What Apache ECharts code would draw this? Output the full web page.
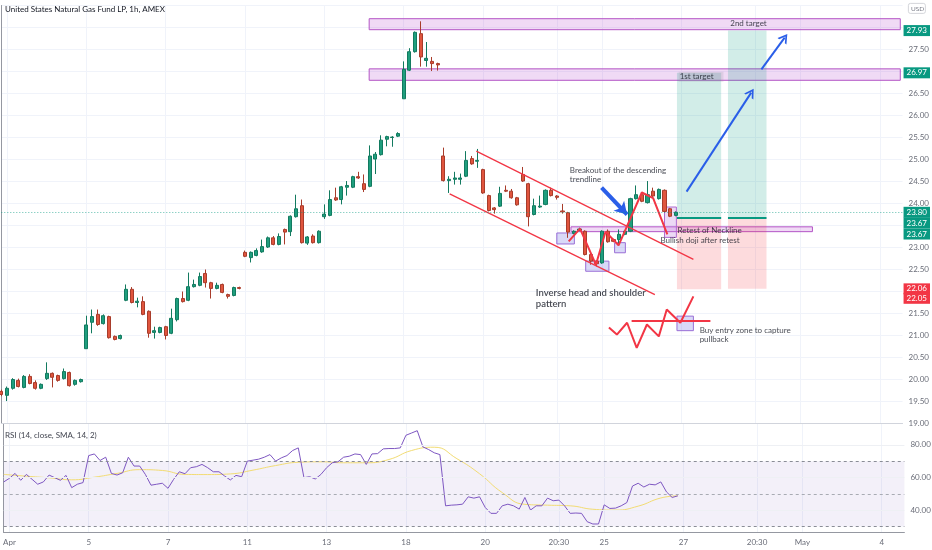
<!DOCTYPE html>
<html>
<head>
<meta charset="utf-8">
<script src="https://cdn.jsdelivr.net/npm/echarts@6/dist/echarts.min.js"></script>
<style>
html, body { margin: 0; padding: 0; background: #fff; }
#chart { width: 932px; height: 550px; }
</style>
</head>
<body>
<div id="chart"></div>
<script>
/* USO 1h with inverse head & shoulders markup */

var barCount = 160; // 120 real bars + empty space on the right
var dateTicks = [[1, 'Apr'], [15, '5'], [29, '7'], [43, '11'], [57, '13'], [71, '18'], [85, '20'],
    [98, '20:30'], [106, '25'], [120, '27'], [133, '20:30'], [141, 'May'], [155, '4']];

// [open, close, low, high]
var candles = [
    [19.73, 19.66, 19.62, 19.77], [19.64, 19.80, 19.51, 19.84], [19.80, 20.00, 19.77, 20.03], [19.98, 19.84, 19.82, 20.02],
    [19.82, 20.07, 19.80, 20.10], [20.07, 19.91, 19.89, 20.12], [19.93, 19.80, 19.77, 19.98], [19.80, 19.89, 19.78, 19.91],
    [20.02, 20.14, 19.99, 20.39], [20.14, 20.05, 19.82, 20.16], [20.09, 19.98, 19.95, 20.11], [20.02, 20.18, 20.00, 20.25],
    [20.16, 19.86, 19.84, 20.18], [19.89, 19.98, 19.86, 20.00], [19.95, 20.00, 19.93, 20.02], [20.70, 21.24, 20.70, 21.45],
    [21.30, 21.43, 21.05, 21.59], [21.48, 21.25, 21.22, 21.59], [21.27, 21.45, 21.25, 21.48], [21.43, 20.95, 20.93, 21.45],
    [20.98, 20.91, 20.89, 21.00], [20.93, 21.00, 20.91, 21.02], [21.80, 22.05, 21.78, 22.16], [22.05, 21.75, 21.73, 22.10],
    [21.75, 21.78, 21.64, 21.86], [21.77, 21.48, 21.46, 21.89], [21.55, 21.05, 20.95, 21.57], [21.07, 21.11, 20.93, 21.20],
    [21.07, 21.18, 21.05, 21.20], [21.20, 21.00, 20.91, 21.22], [21.05, 21.39, 21.03, 21.61], [21.36, 21.84, 21.32, 21.86],
    [21.84, 21.77, 21.75, 22.00], [21.80, 22.11, 21.78, 22.43], [22.11, 22.16, 22.09, 22.27], [22.14, 22.34, 22.12, 22.43],
    [22.41, 22.20, 22.09, 22.50], [22.20, 22.07, 21.84, 22.22], [22.07, 22.14, 22.05, 22.20], [22.16, 21.98, 21.96, 22.18],
    [21.93, 21.89, 21.84, 21.95], [21.91, 22.09, 21.89, 22.11], [22.09, 22.07, 22.05, 22.11], [22.89, 22.80, 22.78, 22.93],
    [22.77, 22.89, 22.66, 22.91], [22.82, 22.93, 22.80, 22.98], [22.90, 23.02, 22.88, 23.18], [23.01, 23.22, 22.99, 23.25],
    [23.22, 23.07, 23.05, 23.26], [23.07, 23.25, 23.05, 23.32], [23.41, 23.35, 23.07, 23.43], [23.36, 23.71, 23.26, 23.73],
    [23.70, 23.88, 23.68, 24.20], [23.95, 23.11, 23.09, 24.09], [23.10, 23.24, 23.06, 23.26], [23.26, 23.11, 23.09, 23.30],
    [23.11, 23.37, 23.09, 23.39], [23.70, 23.76, 23.65, 23.98], [23.73, 24.09, 23.71, 24.30], [24.13, 24.08, 24.06, 24.36],
    [24.09, 24.38, 23.98, 24.40], [24.37, 24.41, 24.18, 24.51], [24.37, 24.61, 24.35, 24.63], [24.61, 24.58, 24.56, 24.72],
    [24.45, 24.32, 24.26, 24.66], [24.39, 25.08, 24.37, 25.32], [25.01, 25.12, 24.67, 25.17], [25.11, 25.44, 25.09, 25.55],
    [25.46, 25.52, 25.30, 25.54], [25.50, 25.51, 25.29, 25.53], [25.53, 25.59, 25.51, 25.62], [26.38, 27.05, 26.38, 27.23],
    [27.03, 27.45, 27.01, 27.53], [27.45, 27.89, 27.43, 27.91], [27.86, 27.33, 27.11, 28.14], [27.25, 27.30, 27.11, 27.67],
    [27.23, 27.18, 27.01, 27.33], [27.18, 27.15, 27.02, 27.20], [25.08, 24.52, 24.50, 25.27], [24.52, 24.55, 24.24, 24.62],
    [24.55, 24.58, 24.43, 24.72], [24.55, 24.58, 24.43, 24.68], [24.62, 24.98, 24.60, 25.19], [25.02, 24.90, 24.88, 25.08],
    [24.96, 24.98, 24.81, 25.24], [24.77, 24.24, 24.22, 24.79], [24.18, 23.84, 23.82, 24.20], [23.90, 23.86, 23.77, 23.92],
    [23.94, 24.23, 23.92, 24.38], [24.30, 24.28, 24.26, 24.41], [24.28, 24.13, 24.11, 24.33], [24.13, 23.97, 23.95, 24.15],
    [24.66, 24.51, 24.49, 24.83], [24.45, 23.70, 23.48, 24.47], [23.75, 23.95, 23.73, 24.11], [23.92, 23.94, 23.90, 24.18],
    [23.98, 24.30, 23.96, 24.32], [24.30, 24.18, 24.16, 24.36], [24.17, 24.14, 24.09, 24.19], [23.83, 23.81, 23.77, 23.99],
    [23.79, 23.35, 23.22, 23.81], [23.32, 23.37, 23.30, 23.39], [23.39, 23.42, 23.37, 23.45], [23.37, 22.84, 22.82, 23.39],
    [22.84, 22.69, 22.61, 22.86], [22.69, 22.63, 22.57, 22.71], [22.65, 23.37, 22.63, 23.39], [23.37, 23.13, 23.11, 23.41],
    [23.18, 23.14, 23.12, 23.20], [23.18, 23.30, 23.05, 23.41], [23.30, 23.37, 23.28, 23.39], [23.37, 24.11, 23.35, 24.13],
    [24.11, 24.20, 24.09, 24.41], [24.20, 24.05, 24.03, 24.22], [24.02, 24.20, 24.00, 24.51], [24.28, 24.17, 24.15, 24.36],
    [24.11, 24.32, 24.09, 24.34], [24.30, 23.82, 23.80, 24.32], [23.88, 23.71, 23.69, 23.90], [23.73, 23.80, 23.71, 23.82]
];

var rsi = [57.3, 59.5, 62.5, 58.3, 61.9, 58.9, 55.9, 57.3, 61.5, 59.9,
    58.3, 61.3, 53.8, 55.9, 56.9, 73.4, 74.4, 70.4, 72.4, 62.5,
    61.5, 62.9, 72.4, 67.0, 67.0, 61.9, 55.3, 55.9, 56.5, 53.4,
    58.9, 63.5, 62.3, 66.0, 66.6, 68.0, 66.0, 63.5, 63.5, 60.9,
    58.5, 61.3, 60.5, 70.0, 70.6, 71.2, 72.4, 74.0, 70.0, 72.0,
    73.4, 76.5, 78.1, 59.9, 60.5, 59.1, 61.9, 66.0, 69.0, 69.6,
    72.4, 73.0, 74.4, 74.0, 68.0, 74.4, 74.6, 77.5, 77.7, 77.7,
    78.1, 85.8, 87.2, 88.6, 78.7, 77.1, 75.1, 74.0, 42.7, 43.1,
    43.3, 43.7, 48.2, 47.4, 48.2, 41.7, 38.1, 38.1, 42.7, 43.7,
    42.7, 40.7, 47.8, 40.1, 42.7, 42.7, 47.4, 45.8, 46.2, 42.7,
    38.1, 38.3, 38.1, 33.0, 31.6, 31.6, 43.3, 41.1, 41.3, 42.7,
    44.7, 54.8, 56.5, 54.2, 55.9, 55.5, 57.3, 51.2, 47.8, 48.8];

// RSI smoothing line, read every few bars  [bar, value]
var rsiSma = [[0, 61.9], [4, 60.8], [8, 59.8], [12, 58.6], [16, 60.2], [20, 62.5], [24, 64.8], [28, 64.3],
    [32, 61.9], [36, 61.8], [40, 62.2], [44, 64.5], [48, 67.3], [52, 69.3], [56, 69.6], [60, 69.0],
    [64, 69.0], [68, 71.0], [72, 76.5], [76, 78.5], [80, 71.5], [84, 62.3], [88, 50.8], [92, 43.6],
    [96, 43.1], [100, 42.7], [104, 40.6], [108, 40.1], [112, 42.5], [116, 47.5], [119, 48.8]];

// drawings, in [bar, price]
var targetZones = [[64.9, 158.6, 27.95, 28.20], [64.9, 158.6, 26.80, 27.06]];
var neckZone = [100.5, 143.1, 23.36, 23.47];
var patternBoxes = [[98.0, 101.1, 23.08, 23.33], [103.1, 107.2, 22.46, 22.69],
    [108.2, 110.1, 22.88, 23.11], [119.2, 122.1, 21.11, 21.44]];
var retestBox = [117.0, 119.1, 23.23, 23.92];
var positions = [[119.2, 127.0, 23.67, 22.05, 26.97], [128.2, 135.0, 23.67, 22.06, 27.93]]; // x0,x1,entry,stop,target
var channelUpper = [[83.8, 25.19], [122.1, 22.73]];
var channelLower = [[79.1, 24.22], [115.3, 21.93]];
var hsPath = [[100.1, 23.14], [102.1, 23.43], [104.9, 22.61], [106.6, 23.36], [108.9, 23.05],
    [113.0, 24.25], [115.0, 24.12], [117.5, 23.30]];
var iconZig = [[107.2, 21.18], [108.6, 21.02], [110.4, 21.29], [112.1, 20.72], [113.9, 21.25],
    [116.0, 20.98], [117.4, 21.59], [119.8, 21.29], [122.1, 21.89]];
var iconNeck = [[111.2, 21.33], [125.1, 21.33]];
var blueArrows = [[[120.9, 24.27], [132.3, 26.52]], [[134.1, 27.05], [138.2, 27.77]]];
var breakoutArrow = [[105.9, 24.36], [110.4, 23.75]];
var notes = [
    [100.3, 24.64, 'Breakout of the descending\ntrendline'],
    [119.3, 23.39, 'Retest of Neckline'],
    [116.3, 23.16, 'Bullish doji after retest'],
    [94.3, 21.84, 'Inverse head and shoulder\npattern'],
    [123.2, 21.01, 'Buy entry zone to capture\npullback'],
    [119.5, 26.88, '1st target'],
    [128.6, 28.09, '2nd target']
];
var priceTagsUp = [27.93, 26.97, 23.80, 23.67, 23.67];
var priceTagsDown = [22.06, 22.05];

var FONT = 'Lato, "Noto Sans", sans-serif';
var TEAL = '#089981', RED = '#f23645';

var categories = [];
for (var i = 0; i < barCount; i++) categories.push('b' + i);
var tickMap = {};
dateTicks.forEach(function (t) { tickMap[t[0]] = t[1]; });
function isTick(index) { return tickMap[index] !== undefined; }

function box(b, fill, border) {
    return [{ coord: [b[0], b[2]], itemStyle: { color: fill, borderColor: border, borderWidth: 1 } },
            { coord: [b[1], b[3]] }];
}
function path(name, pts, color, width) {
    return {
        name: name, type: 'line', xAxisIndex: 1, yAxisIndex: 0, data: pts, symbol: 'none',
        silent: true, z: 4, lineStyle: { color: color, width: width }
    };
}

var areaData = [];
targetZones.forEach(function (b) { areaData.push(box(b, 'rgba(186,85,211,0.22)', '#b455c6')); });
areaData.push(box(neckZone, 'rgba(186,85,211,0.22)', '#b455c6'));
patternBoxes.forEach(function (b) { areaData.push(box(b, 'rgba(120,120,225,0.28)', '#9a6fd6')); });
areaData.push(box(retestBox, 'rgba(186,120,220,0.28)', '#b06ad0'));
positions.forEach(function (p) {
    areaData.push(box([p[0], p[1], p[2], p[4]], 'rgba(8,153,129,0.18)', 'rgba(0,0,0,0)'));
    areaData.push(box([p[0], p[1], p[3], p[2]], 'rgba(242,54,69,0.18)', 'rgba(0,0,0,0)'));
});

var chevron = 'path://M5,0 L10,9 L8.2,9 L5,3.2 L1.8,9 L0,9 Z';
var arrowLines = blueArrows.map(function (a) {
    return [{ coord: a[0], symbol: 'none' }, { coord: a[1], symbol: chevron, symbolSize: [11, 9] }];
});
arrowLines.push([{ coord: breakoutArrow[0], symbol: 'none', lineStyle: { width: 4 } },
                 { coord: breakoutArrow[1], symbol: 'arrow', symbolSize: [11, 12] }]);
positions.forEach(function (p) {
    arrowLines.push([{ coord: [p[0], p[2]], symbol: 'none', lineStyle: { color: TEAL, width: 2 } },
                     { coord: [p[1], p[2]], symbol: 'none' }]);
});

var tagLines = [];
function tag(v, bg, dy, line) {
    tagLines.push({
        yAxis: v,
        lineStyle: line || { color: 'rgba(0,0,0,0)', width: 0 },
        label: {
            show: true, position: 'end', distance: 1, offset: [0, dy], formatter: v.toFixed(2),
            color: '#fff', backgroundColor: bg, padding: [2, 3, 1, 3], fontSize: 8, fontFamily: FONT
        }
    });
}
tag(priceTagsUp[0], TEAL, 0);
tag(priceTagsUp[1], TEAL, 0);
tag(priceTagsUp[2], TEAL, 0, { color: 'rgba(8,153,129,0.65)', type: [1, 2], width: 1 });
tag(priceTagsUp[3], TEAL, 5);
tag(priceTagsUp[4], TEAL, 16);
tag(priceTagsDown[0], RED, 0);
tag(priceTagsDown[1], RED, 9);

var rsiLines = [
    { yAxis: 80, lineStyle: { color: '#eef0f4', type: 'solid' }, label: { show: true, formatter: '80.00' } },
    { yAxis: 60, lineStyle: { color: '#eef0f4', type: 'solid' }, label: { show: true, formatter: '60.00' } },
    { yAxis: 40, lineStyle: { color: '#eef0f4', type: 'solid' }, label: { show: true, formatter: '40.00' } },
    { yAxis: 70, lineStyle: { color: '#8a8d96', type: [3, 3] }, label: { show: false } },
    { yAxis: 50, lineStyle: { color: '#a8abb3', type: [3, 3] }, label: { show: false } },
    { yAxis: 30, lineStyle: { color: '#8a8d96', type: [3, 3] }, label: { show: false } }
];

var chart = echarts.init(document.getElementById('chart'));
var option = {
    animation: false,
    backgroundColor: '#ffffff',
    textStyle: { fontFamily: FONT },
    grid: [
        { left: 1.3, right: 27.6, top: 5.5, height: 418 },
        { left: 1.3, right: 27.6, top: 423.5, height: 109 }
    ],
    xAxis: [
        {
            type: 'category', gridIndex: 0, data: categories, boundaryGap: false,
            axisLabel: { show: false }, axisTick: { show: false },
            axisLine: { lineStyle: { color: '#d1d4dc' } },
            splitLine: { show: true, interval: isTick, lineStyle: { color: '#f0f3fa' } }
        },
        { type: 'value', gridIndex: 0, min: 0, max: barCount - 1, show: false },
        {
            type: 'category', gridIndex: 1, data: categories, boundaryGap: false,
            axisTick: { show: false },
            axisLine: { lineStyle: { color: '#9598a1' } },
            axisLabel: {
                interval: isTick, color: '#6a6d78', fontSize: 8, margin: 6,
                formatter: function (v, idx) { return tickMap[idx] || ''; }
            },
            splitLine: { show: true, interval: isTick, lineStyle: { color: '#f0f3fa' } }
        },
        { type: 'value', gridIndex: 1, min: 0, max: barCount - 1, show: false }
    ],
    yAxis: [
        {
            type: 'value', gridIndex: 0, position: 'right', min: 19, max: 28.5, interval: 0.5,
            axisLine: { show: true, lineStyle: { color: '#9598a1' } }, axisTick: { show: false },
            axisLabel: {
                color: '#6a6d78', fontSize: 8, margin: 6,
                formatter: function (v) { return v >= 28 ? '' : v.toFixed(2); }
            },
            splitLine: { lineStyle: { color: '#f0f3fa' } }
        },
        {
            type: 'value', gridIndex: 1, position: 'right', min: 26.4, max: 93,
            axisLine: { show: true, lineStyle: { color: '#9598a1' } }, axisTick: { show: false },
            axisLabel: { show: false }, splitLine: { show: false }
        }
    ],
    series: [
        {
            name: 'zones', type: 'line', xAxisIndex: 1, yAxisIndex: 0, data: [], z: 1,
            markArea: { silent: true, data: areaData }
        },
        {
            name: 'USO', type: 'candlestick', xAxisIndex: 0, yAxisIndex: 0, data: candles,
            barWidth: 3.6, z: 3,
            itemStyle: { color: '#1f9e7e', color0: '#e0553e', borderColor: '#127a5f', borderColor0: '#a83c2b', borderWidth: 1 }
        },
        path('channel upper', channelUpper, RED, 1.3),
        path('channel lower', channelLower, RED, 1.3),
        path('head and shoulders', hsPath, RED, 2),
        path('pattern icon', iconZig, RED, 2),
        path('pattern neck', iconNeck, RED, 2),
        {
            name: 'arrows', type: 'line', xAxisIndex: 1, yAxisIndex: 0, data: [], z: 5,
            markLine: {
                silent: true, symbol: 'none', label: { show: false },
                lineStyle: { color: '#2a5ee8', width: 2, type: 'solid' },
                data: arrowLines
            }
        },
        {
            name: 'notes', type: 'scatter', xAxisIndex: 1, yAxisIndex: 0, symbolSize: 0, silent: true, z: 6,
            data: notes.map(function (n) {
                var strong = n[2].indexOf('Inverse') === 0;
                return {
                    value: [n[0], n[1]],
                    label: {
                        show: true, position: 'right', distance: 0, formatter: n[2],
                        color: '#131722', fontFamily: FONT,
                        fontSize: strong ? 9.5 : 8, fontWeight: strong ? 600 : 'normal',
                        lineHeight: strong ? 11 : 9,
                        backgroundColor: n[2] === '1st target' ? 'rgba(150,150,160,0.25)' : null,
                        padding: n[2] === '1st target' ? [1, 10, 0, 1] : 0
                    }
                };
            })
        },
        {
            name: 'price tags', type: 'line', xAxisIndex: 1, yAxisIndex: 0, data: [], z: 7,
            markLine: { silent: true, symbol: 'none', data: tagLines }
        },
        {
            name: 'RSI', type: 'line', xAxisIndex: 2, yAxisIndex: 1, data: rsi, symbol: 'none',
            lineStyle: { color: '#7e57c2', width: 1 }, z: 3,
            markArea: {
                silent: true, itemStyle: { color: 'rgba(126,87,194,0.09)' },
                data: [[{ yAxis: 30 }, { yAxis: 70 }]]
            },
            markLine: {
                silent: true, symbol: 'none',
                label: { position: 'end', distance: 6, color: '#6a6d78', fontSize: 8, fontFamily: FONT },
                data: rsiLines
            }
        },
        {
            name: 'RSI SMA', type: 'line', xAxisIndex: 3, yAxisIndex: 1, data: rsiSma, symbol: 'none',
            smooth: true, lineStyle: { color: '#f2dc73', width: 1 }, z: 2
        }
    ],
    graphic: [
        { type: 'text', z: 20, left: 5, top: 5, style: { text: 'United States Natural Gas Fund LP, 1h, AMEX', fontSize: 8, fill: '#131722', fontFamily: FONT } },
        { type: 'text', z: 20, left: 5, top: 431, style: { text: 'RSI (14, close, SMA, 14, 2)', fontSize: 8, fill: '#434651', fontFamily: FONT } },
        {
            type: 'group', z: 20, left: 908, top: 3, children: [
                { type: 'rect', shape: { x: 0, y: 0, width: 17, height: 10, r: 2 }, style: { fill: '#fff', stroke: '#c9cbd1', lineWidth: 0.8 } },
                { type: 'text', x: 2.5, y: 2, style: { text: 'USD', fontSize: 6.5, fill: '#787b86', fontFamily: FONT } }
            ]
        }
    ]
};
chart.setOption(option);
</script>
</body>
</html>
